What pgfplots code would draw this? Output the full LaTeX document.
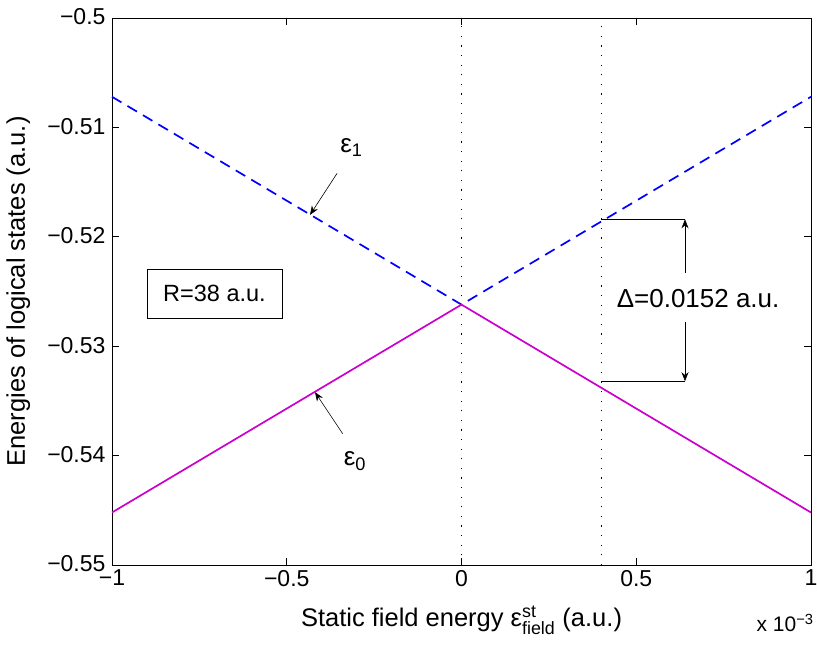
\documentclass[border=0pt]{standalone}
\usepackage{amsmath}
\usepackage{fontspec}
\setmainfont{Liberation Sans}
\usepackage{pgfplots}
\pgfplotsset{compat=1.18}
\usetikzlibrary{arrows.meta}
\definecolor{mlmag}{rgb}{0.8,0,0.8}
\begin{document}
\begin{tikzpicture}
\begin{axis}[
  scale only axis,
  width=699pt, height=547pt,
  xmin=-1, xmax=1, ymin=-0.55, ymax=-0.5,
  xtick={-1,-0.5,0,0.5,1},
  xticklabels={−1,−0.5,0,0.5,1},
  ytick={-0.55,-0.54,-0.53,-0.52,-0.51,-0.5},
  yticklabels={−0.55,−0.54,−0.53,−0.52,−0.51,−0.5},
  tick align=inside,
  major tick length=7pt,
  axis line style={line width=0.9pt},
  every tick/.style={line width=0.7pt, black},
  tick label style={font=\fontsize{23}{27}\selectfont},
  xticklabel style={yshift=-1.5pt},
  yticklabel style={xshift=-3pt, yshift=1pt},
  clip=false,
]
\addplot[black, line width=1.1pt, dash pattern=on 1.1pt off 8.5pt] coordinates {(0,-0.55) (0,-0.5)};
\addplot[black, line width=1.1pt, dash pattern=on 1.1pt off 8.5pt] coordinates {(0.4,-0.55) (0.4,-0.5)};
\addplot[blue, line width=1.7pt, dash pattern=on 11pt off 7pt] coordinates {(-1,-0.5072) (0,-0.5262) (1,-0.5072)};
\addplot[mlmag, line width=1.7pt] coordinates {(-1,-0.5452) (0,-0.5262) (1,-0.5452)};

% epsilon labels
\node[font=\fontsize{26}{30}\selectfont] at (axis cs:-0.315,-0.5118) {ε\textsubscript{1}};
\draw[-{Stealth[length=9pt,width=7pt]}, line width=0.6pt] (axis cs:-0.356,-0.5142) -- (axis cs:-0.4335,-0.5180);
\node[font=\fontsize{26}{30}\selectfont] at (axis cs:-0.305,-0.5405) {ε\textsubscript{0}};
\draw[-{Stealth[length=9pt,width=7pt]}, line width=0.6pt] (axis cs:-0.34,-0.5380) -- (axis cs:-0.4192,-0.5342);

% R box
\node[draw, line width=0.6pt, fill=white, font=\fontsize{23.5}{27}\selectfont, minimum width=135pt, minimum height=49pt] at (axis cs:-0.7067,-0.5252) {R=38 a.u.};

% Delta annotation
\draw[line width=0.6pt] (axis cs:0.4,-0.5184) -- (axis cs:0.6395,-0.5184);
\draw[line width=0.6pt] (axis cs:0.4,-0.5332) -- (axis cs:0.6395,-0.5332);
\draw[-{Stealth[length=9pt,width=7pt]}, line width=0.6pt] (axis cs:0.6395,-0.5233) -- (axis cs:0.6395,-0.5184);
\draw[-{Stealth[length=9pt,width=7pt]}, line width=0.6pt] (axis cs:0.6395,-0.5278) -- (axis cs:0.6395,-0.5332);
\node[font=\fontsize{26}{30}\selectfont] at (axis cs:0.677,-0.5256) {Δ=0.0152 a.u.};

% labels
\node[font=\fontsize{25.5}{30}\selectfont, anchor=center] at (axis description cs:0.5,-0.1005) {Static field energy ε$^{\text{st}}_{\text{field}}$ (a.u.)};
\node[font=\fontsize{25.5}{30}\selectfont, rotate=90, anchor=center] at (axis description cs:-0.134,0.5) {Energies of logical states (a.u.)};
\node[font=\fontsize{21}{25}\selectfont, anchor=center] at (axis description cs:0.963,-0.106) {x 10$^{\text{−3}}$};
\end{axis}
\pgfresetboundingbox
\path[use as bounding box] (-112pt,-82pt) rectangle (705pt,565pt);
\end{tikzpicture}
\end{document}
